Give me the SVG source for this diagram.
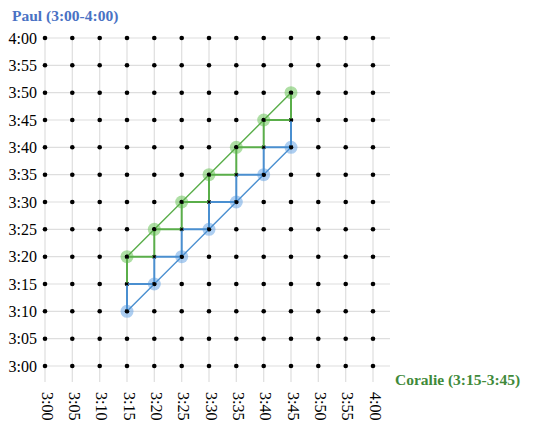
<svg xmlns="http://www.w3.org/2000/svg" width="540" height="434" viewBox="0 0 540 434">
<style>
.grid{stroke:#dedede;stroke-width:1.2;fill:none}
.dot{fill:#000}
.lab{font-family:"Liberation Serif","Times New Roman",serif;font-size:16px;fill:#000}
.ttl{font-family:"Liberation Serif","Times New Roman",serif;font-size:15.5px;font-weight:bold}
.g{stroke:#5aae4a;fill:none;stroke-width:2}
.b{stroke:#4a8fd0;fill:none;stroke-width:2}
.gd{stroke:#5aae4a;fill:none;stroke-width:1.4}
.bd{stroke:#4a8fd0;fill:none;stroke-width:1.4}
.gh{fill:#6cc45a;fill-opacity:0.55}
.bh{fill:#6aa6e6;fill-opacity:0.55}
</style>
<rect width="540" height="434" fill="#fff"/>
<g id="grid">
<path class="grid" d="M45,38V382M72.3,38V382M99.7,38V382M127,38V382M154.3,38V382M181.7,38V382M209,38V382M236.3,38V382M263.7,38V382M291,38V382M318.3,38V382M345.7,38V382M373,38V382"/>
<path class="grid" d="M45,38H390M45,65.3H390M45,92.7H390M45,120H390M45,147.3H390M45,174.7H390M45,202H390M45,229.3H390M45,256.7H390M45,284H390M45,311.3H390M45,338.7H390M45,366H390"/>
</g>
<g id="ylabels" class="lab" text-anchor="end">
<text x="37" y="43.5">4:00</text>
<text x="37" y="70.8">3:55</text>
<text x="37" y="98.2">3:50</text>
<text x="37" y="125.5">3:45</text>
<text x="37" y="152.8">3:40</text>
<text x="37" y="180.2">3:35</text>
<text x="37" y="207.5">3:30</text>
<text x="37" y="234.8">3:25</text>
<text x="37" y="262.2">3:20</text>
<text x="37" y="289.5">3:15</text>
<text x="37" y="316.8">3:10</text>
<text x="37" y="344.2">3:05</text>
<text x="37" y="371.5">3:00</text>
</g>
<g id="xlabels" class="lab">
<text transform="translate(41.5,392) rotate(90)">3:00</text>
<text transform="translate(68.8,392) rotate(90)">3:05</text>
<text transform="translate(96.2,392) rotate(90)">3:10</text>
<text transform="translate(123.5,392) rotate(90)">3:15</text>
<text transform="translate(150.8,392) rotate(90)">3:20</text>
<text transform="translate(178.2,392) rotate(90)">3:25</text>
<text transform="translate(205.5,392) rotate(90)">3:30</text>
<text transform="translate(232.8,392) rotate(90)">3:35</text>
<text transform="translate(260.2,392) rotate(90)">3:40</text>
<text transform="translate(287.5,392) rotate(90)">3:45</text>
<text transform="translate(314.8,392) rotate(90)">3:50</text>
<text transform="translate(342.2,392) rotate(90)">3:55</text>
<text transform="translate(369.5,392) rotate(90)">4:00</text>
</g>
<g id="dots" class="dot">
<path d="M0,0" />
</g>
<g id="halos">
<circle class="gh" cx="127" cy="256.7" r="6.5"/>
<circle class="gh" cx="154.3" cy="229.3" r="6.5"/>
<circle class="gh" cx="181.7" cy="202" r="6.5"/>
<circle class="gh" cx="209" cy="174.7" r="6.5"/>
<circle class="gh" cx="236.3" cy="147.3" r="6.5"/>
<circle class="gh" cx="263.7" cy="120" r="6.5"/>
<circle class="gh" cx="291" cy="92.7" r="6.5"/>
<circle class="bh" cx="127" cy="311.3" r="6.5"/>
<circle class="bh" cx="154.3" cy="284" r="6.5"/>
<circle class="bh" cx="181.7" cy="256.7" r="6.5"/>
<circle class="bh" cx="209" cy="229.3" r="6.5"/>
<circle class="bh" cx="236.3" cy="202" r="6.5"/>
<circle class="bh" cx="263.7" cy="174.7" r="6.5"/>
<circle class="bh" cx="291" cy="147.3" r="6.5"/>
</g>
<g id="gridpoints" class="dot">
<circle cx="45" cy="38" r="2.3"/><circle cx="72.3" cy="38" r="2.3"/><circle cx="99.7" cy="38" r="2.3"/><circle cx="127" cy="38" r="2.3"/><circle cx="154.3" cy="38" r="2.3"/><circle cx="181.7" cy="38" r="2.3"/><circle cx="209" cy="38" r="2.3"/><circle cx="236.3" cy="38" r="2.3"/><circle cx="263.7" cy="38" r="2.3"/><circle cx="291" cy="38" r="2.3"/><circle cx="318.3" cy="38" r="2.3"/><circle cx="345.7" cy="38" r="2.3"/><circle cx="373" cy="38" r="2.3"/>
<circle cx="45" cy="65.3" r="2.3"/><circle cx="72.3" cy="65.3" r="2.3"/><circle cx="99.7" cy="65.3" r="2.3"/><circle cx="127" cy="65.3" r="2.3"/><circle cx="154.3" cy="65.3" r="2.3"/><circle cx="181.7" cy="65.3" r="2.3"/><circle cx="209" cy="65.3" r="2.3"/><circle cx="236.3" cy="65.3" r="2.3"/><circle cx="263.7" cy="65.3" r="2.3"/><circle cx="291" cy="65.3" r="2.3"/><circle cx="318.3" cy="65.3" r="2.3"/><circle cx="345.7" cy="65.3" r="2.3"/><circle cx="373" cy="65.3" r="2.3"/>
<circle cx="45" cy="92.7" r="2.3"/><circle cx="72.3" cy="92.7" r="2.3"/><circle cx="99.7" cy="92.7" r="2.3"/><circle cx="127" cy="92.7" r="2.3"/><circle cx="154.3" cy="92.7" r="2.3"/><circle cx="181.7" cy="92.7" r="2.3"/><circle cx="209" cy="92.7" r="2.3"/><circle cx="236.3" cy="92.7" r="2.3"/><circle cx="263.7" cy="92.7" r="2.3"/><circle cx="291" cy="92.7" r="2.3"/><circle cx="318.3" cy="92.7" r="2.3"/><circle cx="345.7" cy="92.7" r="2.3"/><circle cx="373" cy="92.7" r="2.3"/>
<circle cx="45" cy="120" r="2.3"/><circle cx="72.3" cy="120" r="2.3"/><circle cx="99.7" cy="120" r="2.3"/><circle cx="127" cy="120" r="2.3"/><circle cx="154.3" cy="120" r="2.3"/><circle cx="181.7" cy="120" r="2.3"/><circle cx="209" cy="120" r="2.3"/><circle cx="236.3" cy="120" r="2.3"/><circle cx="263.7" cy="120" r="2.3"/><circle cx="291" cy="120" r="2.3"/><circle cx="318.3" cy="120" r="2.3"/><circle cx="345.7" cy="120" r="2.3"/><circle cx="373" cy="120" r="2.3"/>
<circle cx="45" cy="147.3" r="2.3"/><circle cx="72.3" cy="147.3" r="2.3"/><circle cx="99.7" cy="147.3" r="2.3"/><circle cx="127" cy="147.3" r="2.3"/><circle cx="154.3" cy="147.3" r="2.3"/><circle cx="181.7" cy="147.3" r="2.3"/><circle cx="209" cy="147.3" r="2.3"/><circle cx="236.3" cy="147.3" r="2.3"/><circle cx="263.7" cy="147.3" r="2.3"/><circle cx="291" cy="147.3" r="2.3"/><circle cx="318.3" cy="147.3" r="2.3"/><circle cx="345.7" cy="147.3" r="2.3"/><circle cx="373" cy="147.3" r="2.3"/>
<circle cx="45" cy="174.7" r="2.3"/><circle cx="72.3" cy="174.7" r="2.3"/><circle cx="99.7" cy="174.7" r="2.3"/><circle cx="127" cy="174.7" r="2.3"/><circle cx="154.3" cy="174.7" r="2.3"/><circle cx="181.7" cy="174.7" r="2.3"/><circle cx="209" cy="174.7" r="2.3"/><circle cx="236.3" cy="174.7" r="2.3"/><circle cx="263.7" cy="174.7" r="2.3"/><circle cx="291" cy="174.7" r="2.3"/><circle cx="318.3" cy="174.7" r="2.3"/><circle cx="345.7" cy="174.7" r="2.3"/><circle cx="373" cy="174.7" r="2.3"/>
<circle cx="45" cy="202" r="2.3"/><circle cx="72.3" cy="202" r="2.3"/><circle cx="99.7" cy="202" r="2.3"/><circle cx="127" cy="202" r="2.3"/><circle cx="154.3" cy="202" r="2.3"/><circle cx="181.7" cy="202" r="2.3"/><circle cx="209" cy="202" r="2.3"/><circle cx="236.3" cy="202" r="2.3"/><circle cx="263.7" cy="202" r="2.3"/><circle cx="291" cy="202" r="2.3"/><circle cx="318.3" cy="202" r="2.3"/><circle cx="345.7" cy="202" r="2.3"/><circle cx="373" cy="202" r="2.3"/>
<circle cx="45" cy="229.3" r="2.3"/><circle cx="72.3" cy="229.3" r="2.3"/><circle cx="99.7" cy="229.3" r="2.3"/><circle cx="127" cy="229.3" r="2.3"/><circle cx="154.3" cy="229.3" r="2.3"/><circle cx="181.7" cy="229.3" r="2.3"/><circle cx="209" cy="229.3" r="2.3"/><circle cx="236.3" cy="229.3" r="2.3"/><circle cx="263.7" cy="229.3" r="2.3"/><circle cx="291" cy="229.3" r="2.3"/><circle cx="318.3" cy="229.3" r="2.3"/><circle cx="345.7" cy="229.3" r="2.3"/><circle cx="373" cy="229.3" r="2.3"/>
<circle cx="45" cy="256.7" r="2.3"/><circle cx="72.3" cy="256.7" r="2.3"/><circle cx="99.7" cy="256.7" r="2.3"/><circle cx="127" cy="256.7" r="2.3"/><circle cx="154.3" cy="256.7" r="2.3"/><circle cx="181.7" cy="256.7" r="2.3"/><circle cx="209" cy="256.7" r="2.3"/><circle cx="236.3" cy="256.7" r="2.3"/><circle cx="263.7" cy="256.7" r="2.3"/><circle cx="291" cy="256.7" r="2.3"/><circle cx="318.3" cy="256.7" r="2.3"/><circle cx="345.7" cy="256.7" r="2.3"/><circle cx="373" cy="256.7" r="2.3"/>
<circle cx="45" cy="284" r="2.3"/><circle cx="72.3" cy="284" r="2.3"/><circle cx="99.7" cy="284" r="2.3"/><circle cx="127" cy="284" r="2.3"/><circle cx="154.3" cy="284" r="2.3"/><circle cx="181.7" cy="284" r="2.3"/><circle cx="209" cy="284" r="2.3"/><circle cx="236.3" cy="284" r="2.3"/><circle cx="263.7" cy="284" r="2.3"/><circle cx="291" cy="284" r="2.3"/><circle cx="318.3" cy="284" r="2.3"/><circle cx="345.7" cy="284" r="2.3"/><circle cx="373" cy="284" r="2.3"/>
<circle cx="45" cy="311.3" r="2.3"/><circle cx="72.3" cy="311.3" r="2.3"/><circle cx="99.7" cy="311.3" r="2.3"/><circle cx="127" cy="311.3" r="2.3"/><circle cx="154.3" cy="311.3" r="2.3"/><circle cx="181.7" cy="311.3" r="2.3"/><circle cx="209" cy="311.3" r="2.3"/><circle cx="236.3" cy="311.3" r="2.3"/><circle cx="263.7" cy="311.3" r="2.3"/><circle cx="291" cy="311.3" r="2.3"/><circle cx="318.3" cy="311.3" r="2.3"/><circle cx="345.7" cy="311.3" r="2.3"/><circle cx="373" cy="311.3" r="2.3"/>
<circle cx="45" cy="338.7" r="2.3"/><circle cx="72.3" cy="338.7" r="2.3"/><circle cx="99.7" cy="338.7" r="2.3"/><circle cx="127" cy="338.7" r="2.3"/><circle cx="154.3" cy="338.7" r="2.3"/><circle cx="181.7" cy="338.7" r="2.3"/><circle cx="209" cy="338.7" r="2.3"/><circle cx="236.3" cy="338.7" r="2.3"/><circle cx="263.7" cy="338.7" r="2.3"/><circle cx="291" cy="338.7" r="2.3"/><circle cx="318.3" cy="338.7" r="2.3"/><circle cx="345.7" cy="338.7" r="2.3"/><circle cx="373" cy="338.7" r="2.3"/>
<circle cx="45" cy="366" r="2.3"/><circle cx="72.3" cy="366" r="2.3"/><circle cx="99.7" cy="366" r="2.3"/><circle cx="127" cy="366" r="2.3"/><circle cx="154.3" cy="366" r="2.3"/><circle cx="181.7" cy="366" r="2.3"/><circle cx="209" cy="366" r="2.3"/><circle cx="236.3" cy="366" r="2.3"/><circle cx="263.7" cy="366" r="2.3"/><circle cx="291" cy="366" r="2.3"/><circle cx="318.3" cy="366" r="2.3"/><circle cx="345.7" cy="366" r="2.3"/><circle cx="373" cy="366" r="2.3"/>
</g>
<g id="connectors">
<path class="gd" d="M127,256.7L291,92.7"/>
<path class="bd" d="M127,311.3L291,147.3"/>
<path class="b" d="M127,311.3V284H154.3V256.7H181.7V229.3H209V202H236.3V174.7H263.7V147.3H291V120"/>
<path class="g" d="M127,284V256.7H154.3V229.3H181.7V202H209V174.7H236.3V147.3H263.7V120H291V92.7"/>
</g>
<g id="centers" class="dot">
<circle cx="127" cy="256.7" r="2"/><circle cx="154.3" cy="229.3" r="2"/><circle cx="181.7" cy="202" r="2"/><circle cx="209" cy="174.7" r="2"/><circle cx="236.3" cy="147.3" r="2"/><circle cx="263.7" cy="120" r="2"/><circle cx="291" cy="92.7" r="2"/>
<circle cx="127" cy="311.3" r="2"/><circle cx="154.3" cy="284" r="2"/><circle cx="181.7" cy="256.7" r="2"/><circle cx="209" cy="229.3" r="2"/><circle cx="236.3" cy="202" r="2"/><circle cx="263.7" cy="174.7" r="2"/><circle cx="291" cy="147.3" r="2"/>
<circle cx="127" cy="284" r="1.4"/><circle cx="154.3" cy="256.7" r="1.4"/><circle cx="181.7" cy="229.3" r="1.4"/><circle cx="209" cy="202" r="1.4"/><circle cx="236.3" cy="174.7" r="1.4"/><circle cx="263.7" cy="147.3" r="1.4"/><circle cx="291" cy="120" r="1.4"/>
</g>
<g id="titles">
<text class="ttl" x="12" y="20.5" fill="#4a72c4">Paul (3:00-4:00)</text>
<text class="ttl" x="395" y="384.5" fill="#3f8a3a">Coralie (3:15-3:45)</text>
</g>
</svg>
